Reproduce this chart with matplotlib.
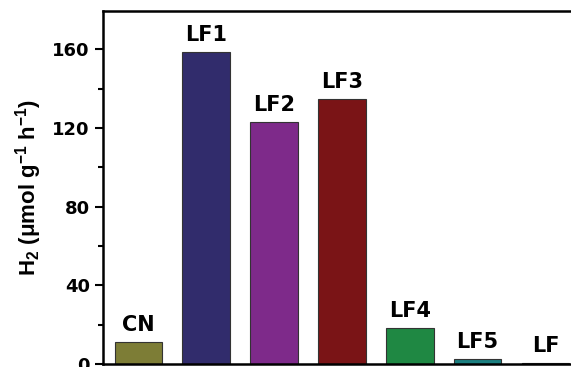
import matplotlib
matplotlib.use('Agg')
import matplotlib.pyplot as plt
import numpy as np

plt.rcParams['font.family'] = ['DejaVu Sans']
plt.rcParams['font.weight'] = 'bold'
plt.rcParams['mathtext.fontset'] = 'custom'
plt.rcParams['mathtext.rm'] = 'Liberation Sans:bold'
plt.rcParams['mathtext.bf'] = 'Liberation Sans:bold'
plt.rcParams['mathtext.default'] = 'bf'

samples = ['CN', 'LF1', 'LF2', 'LF3', 'LF4', 'LF5', 'LF']
h2_rate = [11.3, 158.4, 123.0, 134.5, 18.4, 2.4, 0.7]
colors = ['#7d7d36', '#312c6c', '#7e2a8a', '#7a1416', '#1f8843', '#1b7f80', '#2c2c6a']

fig = plt.figure(figsize=(5.71, 3.67), dpi=100)
ax = fig.add_axes([103/571, 3/367, 1 - 103/571, 353/367])

x = np.arange(len(samples))
ax.bar(x, h2_rate, width=0.7, color=colors, edgecolor='#333333', linewidth=0.8)

# sample names above each bar
for xi, val, name in zip(x, h2_rate, samples):
    ax.annotate(name, (xi, val), xytext=(0, 8), textcoords='offset points',
                ha='center', va='baseline', fontsize=15, fontweight='bold')

ax.set_xlim(-0.52, 6.375)
ax.set_ylim(0, 179.5)
ax.set_yticks([0, 40, 80, 120, 160])
ax.set_yticks([20, 60, 100, 140], minor=True)
ax.set_xticks([])
ax.tick_params(axis='y', which='major', direction='out', length=5.5, width=1.5,
               labelsize=13, pad=4)
ax.tick_params(axis='y', which='minor', direction='out', length=3.5, width=1.5)
for lab in ax.get_yticklabels():
    lab.set_fontweight('bold')

for side in ['left', 'bottom', 'top']:
    ax.spines[side].set_linewidth(1.8)
ax.spines['right'].set_visible(False)

ax.set_ylabel('H$_2$ (μmol g$^{-1}$ h$^{-1}$)', fontsize=16, fontweight='bold',
              family='Liberation Sans')
ax.yaxis.set_label_coords(-0.125, 0.5)

fig.savefig('out.png', dpi=100)
